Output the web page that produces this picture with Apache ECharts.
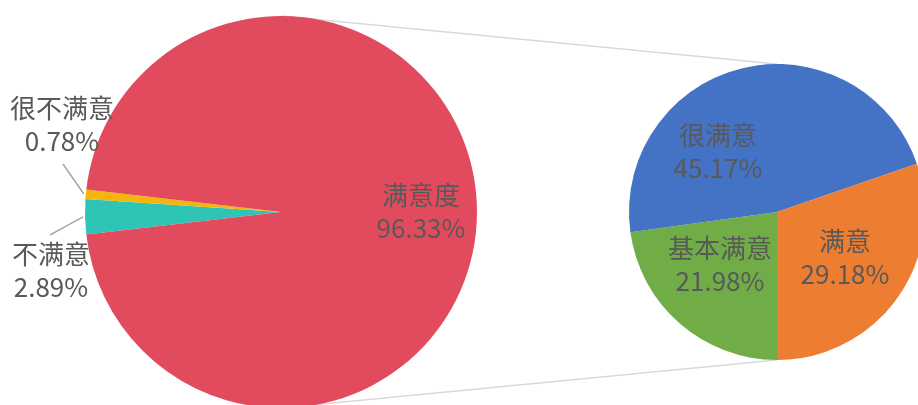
<!DOCTYPE html>
<html>
<head>
<meta charset="utf-8">
<script src="https://cdn.jsdelivr.net/npm/echarts@6/dist/echarts.min.js"></script>
<style>
  html, body { margin: 0; padding: 0; background: #fff; }
  #main { width: 918px; height: 405px; }
</style>
</head>
<body>
<div id="main"></div>
<script>
// 主饼图：满意度 / 不满意 / 很不满意
var names1 = ['不满意', '很不满意', '满意度'];
var values1 = [2.89, 0.78, 96.33];
// 子饼图：满意度的细分
var names2 = ['基本满意', '很满意', '满意'];
var values2 = [21.98, 45.17, 29.18];

var colors1 = ['#2EC4B6', '#F5B50F', '#E24B5E'];
var colors2 = ['#70AD47', '#4472C4', '#ED7D31'];

// 布局
var C1 = [281, 212], R1 = 196;
var C2 = [777, 212], R2 = 148;
// 标签中心相对饼心的偏移
var labelOff1 = [[-230, 59], [-219, -87], [140, 0]];
var labelOff2 = [[-57, 53], [-59, -60], [68, 46]];
// 引导线终点相对饼心的偏移（只有外部标签）
var lineEnd1 = [[-231, 23], [-218, -48], null];

function sum(arr) {
    var s = 0;
    arr.forEach(function(v){ s += v; });
    return s;
}
var total1 = sum(values1);
var start1 = 180 + (values1[0] + values1[1]) / total1 * 360 / 2;

function midAngle(values, start, i) {
    var t = sum(values), before = 0;
    for (var k = 0; k < i; k++) before += values[k];
    return start - (before + values[i] / 2) / t * 360;
}

var data1 = names1.map(function(n, i){
    var item = { name: n, value: values1[i], itemStyle: { color: colors1[i] } };
    if (!lineEnd1[i]) {
        item.label = { position: 'inside' };
        item.labelLine = { show: false };
    }
    return item;
});
var data2 = names2.map(function(n, i){
    return { name: n, value: values2[i], itemStyle: { color: colors2[i] } };
});

var labelStyle = {
    formatter: '{b}\n{c}%',
    fontSize: 26,
    lineHeight: 33,
    color: '#595959',
    fontFamily: 'Noto Sans CJK SC'
};

var myChart = echarts.init(document.getElementById('main'));
var option = {
    animation: false,
    graphic: [
        { type: 'line', z: 0, shape: { x1: C1[0], y1: C1[1] - R1, x2: C2[0], y2: C2[1] - R2 },
          style: { stroke: '#D9D9D9', lineWidth: 1.5 } },
        { type: 'line', z: 0, shape: { x1: C1[0], y1: C1[1] + R1, x2: C2[0], y2: C2[1] + R2 },
          style: { stroke: '#D9D9D9', lineWidth: 1.5 } }
    ],
    series: [{
        type: 'pie',
        z: 2,
        center: C1,
        radius: R1,
        startAngle: start1,
        clockwise: true,
        avoidLabelOverlap: false,
        label: Object.assign({ position: 'outside' }, labelStyle),
        labelLine: { show: true, lineStyle: { color: '#A6A6A6', width: 1.5 } },
        itemStyle: { borderWidth: 0 },
        data: data1,
        labelLayout: function(params) {
            var i = params.dataIndex;
            var res = {
                x: C1[0] + labelOff1[i][0],
                y: C1[1] + labelOff1[i][1],
                align: 'center',
                verticalAlign: 'middle'
            };
            if (lineEnd1[i]) {
                var a = midAngle(values1, start1, i) * Math.PI / 180;
                var p0 = [C1[0] + (R1 + 2) * Math.cos(a), C1[1] - (R1 + 2) * Math.sin(a)];
                var p2 = [C1[0] + lineEnd1[i][0], C1[1] + lineEnd1[i][1]];
                res.labelLinePoints = [p0, [(p0[0] + p2[0]) / 2, (p0[1] + p2[1]) / 2], p2];
            }
            return res;
        }
    }, {
        type: 'pie',
        z: 2,
        center: C2,
        radius: R2,
        startAngle: 270,
        clockwise: true,
        avoidLabelOverlap: false,
        label: Object.assign({ position: 'inside' }, labelStyle),
        labelLine: { show: false },
        itemStyle: { borderWidth: 0 },
        data: data2,
        labelLayout: function(params) {
            var i = params.dataIndex;
            return {
                x: C2[0] + labelOff2[i][0],
                y: C2[1] + labelOff2[i][1],
                align: 'center',
                verticalAlign: 'middle'
            };
        }
    }]
};
myChart.setOption(option);
</script>
</body>
</html>
